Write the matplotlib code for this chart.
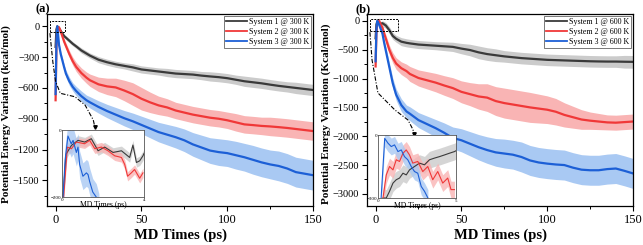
import matplotlib
matplotlib.use("Agg")
import matplotlib.pyplot as plt
import numpy as np
from matplotlib.ticker import MultipleLocator
from matplotlib.patches import Rectangle

plt.rcParams['font.family'] = ['Liberation Serif', 'DejaVu Serif']
plt.rcParams['mathtext.fontset'] = 'stix'

# ---------------- data: panel (a) 300 K ----------------
t_main = [0, 0.5, 1, 2, 3, 4, 5, 6, 8, 10, 12, 15, 18, 20, 25, 30, 35, 40, 45, 50,
          55, 60, 65, 70, 75, 80, 85, 90, 95, 100, 105, 110, 115, 120, 125, 130, 135, 140, 145, 150]

a_sys1 = [-200, -30, 0, -20, -45, -70, -95, -110, -140, -170, -195, -235, -265, -285, -325, -350, -370, -385, -400, -420,
          -430, -440, -450, -460, -465, -470, -480, -488, -495, -505, -520, -535, -545, -555, -568, -580, -590, -600, -610, -620]
a_sys2 = [-720, -200, -20, -10, -50, -100, -150, -190, -270, -340, -395, -455, -500, -525, -565, -585, -595, -625, -660, -705,
          -740, -770, -790, -820, -840, -860, -875, -890, -900, -915, -935, -955, -962, -970, -975, -982, -990, -1000, -1010, -1020]
a_sys3 = [-660, -150, 0, -180, -270, -335, -400, -460, -535, -590, -630, -680, -720, -740, -785, -825, -860, -895, -925, -960,
          -995, -1030, -1055, -1080, -1110, -1150, -1180, -1210, -1225, -1235, -1255, -1275, -1300, -1325, -1345, -1360, -1385, -1420, -1435, -1450]
a_sys1_spread = [10, 15, 15, 15, 15, 15, 15, 20, 20, 20, 20, 25, 25, 25, 30, 30, 30, 30, 35, 35,
                 35, 35, 40, 40, 40, 40, 40, 45, 45, 45, 45, 50, 50, 50, 50, 50, 50, 55, 55, 55]
a_sys2_spread = [10, 20, 20, 20, 25, 25, 30, 30, 35, 40, 45, 50, 55, 60, 70, 80, 90, 100, 110, 110,
                 100, 90, 85, 80, 80, 80, 80, 80, 80, 80, 85, 85, 85, 85, 90, 90, 90, 90, 90, 90]
a_sys3_spread = [10, 20, 20, 25, 25, 30, 30, 35, 40, 40, 45, 50, 50, 55, 60, 65, 70, 75, 80, 85,
                 90, 95, 100, 105, 110, 115, 120, 125, 130, 130, 135, 135, 140, 140, 140, 145, 145, 145, 145, 145]

# ---------------- data: panel (b) 600 K ----------------
b_sys1 = [-300, -60, -10, -40, -50, -40, -60, -80, -160, -260, -310, -360, -380, -390, -410, -420, -430, -440, -450, -480,
          -505, -545, -575, -595, -615, -630, -645, -655, -665, -675, -680, -685, -690, -695, -700, -703, -705, -705, -708, -710]
b_sys2 = [-790, -200, -20, 0, -60, -120, -220, -310, -500, -640, -740, -820, -870, -920, -990, -1030, -1070, -1120, -1165, -1230,
          -1270, -1310, -1330, -1390, -1425, -1450, -1475, -1500, -1520, -1540, -1575, -1630, -1670, -1710, -1730, -1745, -1760, -1765, -1755, -1745]
b_sys3 = [-700, -150, 0, -60, -140, -220, -380, -520, -800, -1080, -1280, -1460, -1570, -1610, -1720, -1790, -1860, -1940, -2030, -2070,
          -2130, -2190, -2240, -2280, -2300, -2320, -2360, -2420, -2455, -2475, -2490, -2500, -2545, -2580, -2590, -2590, -2570, -2560, -2600, -2645]
b_sys1_spread = [20, 30, 30, 40, 40, 40, 50, 50, 60, 60, 60, 70, 70, 70, 70, 70, 70, 75, 80, 90,
                 100, 110, 110, 110, 100, 100, 100, 100, 100, 100, 100, 100, 100, 100, 100, 100, 100, 100, 110, 110]
b_sys2_spread = [20, 40, 40, 50, 50, 60, 60, 70, 80, 90, 100, 110, 120, 130, 140, 150, 160, 170, 180, 190,
                 200, 220, 240, 250, 260, 260, 260, 260, 250, 240, 230, 210, 190, 170, 150, 140, 130, 130, 130, 130]
b_sys3_spread = [20, 40, 40, 50, 50, 60, 60, 70, 80, 90, 100, 110, 110, 120, 130, 140, 150, 170, 190, 200,
                 210, 220, 230, 240, 250, 250, 260, 260, 260, 260, 260, 260, 260, 260, 260, 260, 260, 260, 260, 260]

# ---------------- inset data (a): 0-4 ps ----------------
ia_sys1_t = [0.05, 0.2, 0.46, 0.78, 1.11, 1.43, 1.76, 2.08, 2.49, 2.9, 3.3, 3.46, 3.63, 3.79, 3.95, 4.0]
ia_sys1_E = [-200, -72, -46, -31, -36, -26, -62, -51, -67, -62, -82, -45, -97, -92, -77, -70]
ia_sys2_t = [0.08, 0.26, 0.46, 0.7, 1.1, 1.35, 1.6, 1.92, 2.24, 2.57, 2.9, 3.06, 3.2, 3.38, 3.54, 3.79, 3.95]
ia_sys2_E = [-200, -51, -56, -36, -41, -31, -56, -51, -62, -77, -82, -103, -138, -128, -118, -144, -128]
ia_sys3_t = [0.05, 0.15, 0.29, 0.45, 0.54, 0.7, 0.78, 0.86, 1.02, 1.19, 1.27, 1.35, 1.5, 1.67, 1.8]
ia_sys3_E = [-200, -90, -18, -41, -31, -67, -51, -103, -138, -128, -133, -154, -185, -200, -230]

# ---------------- inset data (b): 0-5 ps ----------------
ib_sys1_t = [0.32, 0.53, 0.74, 0.96, 1.17, 1.38, 1.6, 1.81, 2.02, 2.34, 2.66, 2.98, 3.3, 3.62, 3.94, 4.26, 4.57, 4.9, 5.0]
ib_sys1_E = [-300, -300, -268, -229, -213, -205, -182, -190, -166, -150, -134, -142, -118, -110, -103, -95, -87, -79, -75]
ib_sys2_t = [0.32, 0.53, 0.74, 0.96, 1.17, 1.38, 1.6, 1.81, 2.02, 2.23, 2.55, 2.87, 3.19, 3.51, 3.83, 4.15, 4.47, 4.68, 4.9]
ib_sys2_E = [-300, -190, -150, -166, -118, -126, -87, -71, -95, -134, -126, -174, -150, -213, -174, -229, -205, -260, -260]
ib_sys3_t = [0.2, 0.43, 0.64, 0.85, 1.06, 1.28, 1.49, 1.7, 1.91, 2.13, 2.34, 2.55, 2.77, 2.98, 3.2]
ib_sys3_E = [-300, -16, -39, -55, -47, -79, -71, -103, -118, -150, -174, -182, -245, -268, -300]

labels_a = ['System 1 @ 300 K', 'System 2 @ 300 K', 'System 3 @ 300 K']
labels_b = ['System 1 @ 600 K', 'System 2 @ 600 K', 'System 3 @ 600 K']
xticks_main = [0, 50, 100, 150]
yticks_a = [0, -300, -600, -900, -1200, -1500]
yticks_b = [0, -500, -1000, -1500, -2000, -2500, -3000]

line_colors = ['#3a3a3a', '#f03838', '#1c5fd6']
band_colors = ['#cbcbcb', '#f9b4b4', '#a9c9f3']

fig = plt.figure(figsize=(6.43, 2.45), dpi=100)
W, H = 643.0, 245.0


def main_panel(left_px, series, spreads, labels, yticks, ylim, yminor, ylabel, tag):
    ax = fig.add_axes([left_px / W, (H - 206) / H, 266 / W, 192 / H])
    t = np.array(t_main)
    for E, s, lc, bc in zip(series, spreads, line_colors, band_colors):
        E = np.array(E, float); s = np.array(s, float)
        ax.fill_between(t, E - s, E + s, color=bc, lw=0, zorder=1)
    handles = []
    for E, lc, lab in zip(series, line_colors, labels):
        h, = ax.plot(t, E, color=lc, lw=1.6, label=lab, zorder=2)
        handles.append(h)
    ax.set_xlim(-5, 150)
    ax.set_ylim(*ylim)
    ax.set_xticks(xticks_main)
    ax.set_yticks(yticks)
    ax.xaxis.set_minor_locator(MultipleLocator(25))
    ax.yaxis.set_minor_locator(MultipleLocator(yminor))
    ax.tick_params(axis='x', which='major', direction='out', length=3.5, width=0.8, labelsize=9, pad=2)
    ax.tick_params(axis='y', which='major', direction='out', length=3.5, width=0.8, labelsize=7.5, pad=2)
    ax.tick_params(which='minor', direction='out', length=2, width=0.7)
    ax.tick_params(top=False, right=False, which='both')
    for sp in ax.spines.values():
        sp.set_linewidth(0.9)
    ax.set_xlabel('MD Times (ps)', fontsize=10.5, fontweight='bold')
    ax.xaxis.set_label_coords(0.5, -0.115)
    ax.set_ylabel(ylabel, fontsize=8, fontweight='bold')
    ax.yaxis.set_label_coords(-0.135, 0.48)
    leg = ax.legend(handles=handles, loc='upper right', fontsize=5.8, frameon=True, fancybox=False,
                    edgecolor='#444444', framealpha=1, handlelength=2.6, handletextpad=0.2,
                    labelspacing=0.25, borderpad=0.25, borderaxespad=0.25)
    leg.get_frame().set_linewidth(0.5)
    for lh in leg.get_lines():
        lh.set_linewidth(1.3)
    fig.text((left_px - 12) / W, 1 - 3 / H, tag, fontsize=9, fontweight='bold', ha='left', va='top')
    return ax


def inset(rect_px, series, xmax, ymin, ax_main, box, conn):
    l, t_, r, b = rect_px
    ins = fig.add_axes([l / W, (H - b) / H, (r - l) / W, (b - t_) / H], zorder=5)
    ins.set_facecolor('white')
    for (tt, EE), bc, lc, i in zip(series, band_colors, line_colors, range(3)):
        tt = np.array(tt); EE = np.array(EE, float)
        wid = 14 if i < 2 else 40
        if ymin < -250:
            wid = 40
        ins.fill_between(tt, EE - wid, EE + wid, color=bc, lw=0, alpha=0.8)
    for (tt, EE), lc in zip(series, line_colors):
        ins.plot(tt, EE, color=lc, lw=0.8)
    ins.set_xlim(0, xmax)
    ins.set_ylim(ymin, 0)
    ins.set_xticks([0, xmax])
    ins.set_yticks([ymin, 0])
    ins.tick_params(length=0, labelsize=3.6, pad=0.8)
    ins.set_xlabel('MD Times (ps)', fontsize=5.5, labelpad=-0.5)
    for sp in ins.spines.values():
        sp.set_linewidth(0.6)
        sp.set_color('#555555')
    # dashed zoom box on main axes
    x0, y0, x1, y1 = box
    ax_main.add_patch(Rectangle((x0, y0), x1 - x0, y1 - y0, transform=ax_main.transAxes,
                                fill=False, ls=(0, (2, 1.2)), lw=0.7, ec='black', zorder=6))
    cx, cy = zip(*conn)
    ax_main.plot(cx, cy, transform=ax_main.transAxes, color='black', lw=0.8,
                 ls=(0, (4, 1.5, 1, 1.5)), zorder=6)
    ax_main.plot([cx[-1]], [cy[-1]], transform=ax_main.transAxes, marker='v', ms=2.5,
                 color='black', zorder=7, clip_on=False)
    return ins


ax_a = main_panel(47, [a_sys1, a_sys2, a_sys3], [a_sys1_spread, a_sys2_spread, a_sys3_spread],
                  labels_a, yticks_a, (-1750, 120), 150,
                  'Potential Energy Variation (kcal/mol)', '(a)')
ax_b = main_panel(367, [b_sys1, b_sys2, b_sys3], [b_sys1_spread, b_sys2_spread, b_sys3_spread],
                  labels_b, yticks_b, (-3210, 120), 250,
                  'Potential Energy Variation (Kcal/mol)', '(b)')

inset((62, 130, 144, 197),
      [(ia_sys1_t, ia_sys1_E), (ia_sys2_t, ia_sys2_E), (ia_sys3_t, ia_sys3_E)],
      4, -200, ax_a, (0.011, 0.906, 0.068, 0.964),
      [(0.011, 0.90), (0.022, 0.75), (0.032, 0.65), (0.05, 0.587), (0.105, 0.569),
       (0.143, 0.526), (0.174, 0.448), (0.180, 0.41)])
inset((378, 135, 456, 198),
      [(ib_sys1_t, ib_sys1_E), (ib_sys2_t, ib_sys2_E), (ib_sys3_t, ib_sys3_E)],
      5, -300, ax_b, (0.011, 0.911, 0.117, 0.974),
      [(0.011, 0.905), (0.019, 0.76), (0.041, 0.589), (0.105, 0.50), (0.154, 0.448),
       (0.172, 0.40), (0.178, 0.375)])

fig.savefig('out.png', dpi=100)
